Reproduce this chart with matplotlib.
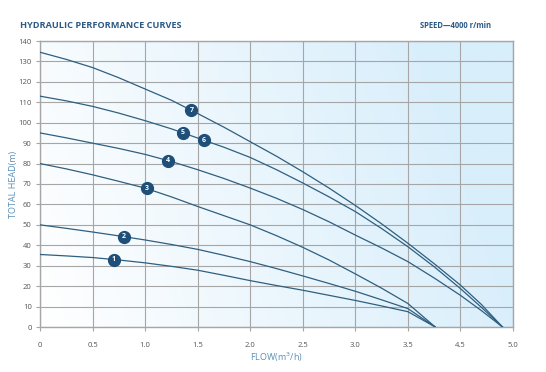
import numpy as np
import matplotlib.pyplot as plt
from matplotlib.colors import LinearSegmentedColormap

# curve data (x on the drawn flow scale, y = head in m)
x_low  = [0, 0.25, 0.5, 0.75, 1.0, 1.25, 1.5, 1.75, 2.0, 2.25, 2.5, 2.75,
          3.0, 3.25, 3.5, 3.76]
head1  = [35.5, 34.8, 34.0, 32.8, 31.4, 29.7, 27.8, 25.3, 22.7, 20.3, 18.0,
          15.5, 13.0, 10.3, 7.5, 0]
head2  = [50.0, 48.3, 46.5, 44.6, 42.6, 40.4, 38.0, 35.1, 32.0, 28.6, 25.0,
          21.3, 17.5, 13.3, 9.0, 0]
head3  = [80.0, 77.4, 74.5, 71.3, 68.0, 63.7, 59.0, 54.5, 50.0, 44.7, 39.0,
          32.8, 26.0, 19.0, 11.5, 0]

x_high = [0, 0.25, 0.5, 0.75, 1.0, 1.25, 1.5, 1.75, 2.0, 2.25, 2.5, 2.75,
          3.0, 3.25, 3.5, 3.75, 4.0, 4.2, 4.4]
head4  = [95.0, 92.6, 90.0, 87.4, 84.5, 81.0, 77.0, 72.7, 68.0, 63.0, 57.5,
          51.5, 45.0, 38.7, 32.0, 24.0, 15.5, 8.0, 0]
head56 = [113.0, 110.7, 108.0, 104.7, 101.0, 97.0, 92.5, 88.0, 83.0, 77.0,
          70.5, 63.7, 56.5, 48.2, 39.3, 29.5, 18.8, 9.6, 0]
head7  = [134.5, 131.0, 127.0, 122.0, 116.5, 111.0, 104.5, 97.8, 90.7, 83.6,
          76.0, 68.0, 59.5, 50.5, 41.0, 31.0, 20.5, 11.0, 0]

# numbered markers on the curves
mark_x = [0.70, 0.80, 1.015, 1.22, 1.36, 1.56, 1.44]
mark_y = [33.0, 44.2, 67.9, 81.3, 95.0, 91.5, 106.0]
mark_n = ['1', '2', '3', '4', '5', '6', '7']

xtick_pos = [0, 0.5, 1.0, 1.5, 2.0, 2.5, 3.0, 3.5, 4.0, 4.5]
xtick_lab = ['0', '0.5', '1.0', '1.5', '2.0', '2.5', '3.0', '3.5', '4.5', '5.0']
ytick_pos = list(range(0, 141, 10))

line_c  = '#2f5f80'
mark_c  = '#1f4f78'
title_c = '#2b5a85'
label_c = '#5a8fb8'
grid_c  = '#a6a6a6'

plt.rcParams['font.family'] = ['Open Sans', 'DejaVu Sans']

fig = plt.figure(figsize=(5.46, 3.72), dpi=100)
ax = fig.add_axes([40/546, 1-327/372, 473/546, 286/372])

# background gradient white -> light blue
cmap = LinearSegmentedColormap.from_list('bg', ['#ffffff', '#d8eefb'])
gx = np.linspace(0, 1, 256)
gy = np.linspace(0, 1, 64)
G = np.clip(gx[None, :] * 0.95 + gy[:, None] * 0.2, 0, 1)
ax.imshow(G, cmap=cmap, extent=[0, 4.5, 0, 140], aspect='auto',
          origin='lower', zorder=0, vmin=0, vmax=1)

for xs, hs in [(x_low, head1), (x_low, head2), (x_low, head3),
               (x_high, head4), (x_high, head56), (x_high, head7)]:
    ax.plot(xs, hs, color=line_c, lw=0.9, zorder=3)

for mx, my, mn in zip(mark_x, mark_y, mark_n):
    ax.plot(mx, my, 'o', ms=8.5, color=mark_c, zorder=4)
    ax.text(mx, my, mn, color='white', fontsize=5, fontweight='bold',
            ha='center', va='center', zorder=5)

ax.set_xlim(0, 4.5)
ax.set_ylim(0, 140)
ax.set_xticks(xtick_pos)
ax.set_xticklabels(xtick_lab)
ax.set_yticks(ytick_pos)
ax.grid(True, color=grid_c, lw=0.8, zorder=1)
ax.set_axisbelow(False)
for s in ax.spines.values():
    s.set_color(grid_c)
    s.set_linewidth(1.0)
ax.tick_params(colors='#555555', labelsize=5.5, length=3, width=0.8,
               color=grid_c, pad=3)
ax.tick_params(axis='x', pad=8)

ax.set_ylabel('TOTAL HEAD(m)', color=label_c, fontsize=6.5)
ax.yaxis.set_label_coords(-22/473, 0.5)
ax.set_xlabel('FLOW(m$^3$/h)', color=label_c, fontsize=6.5, labelpad=1)

fig.text(20/546, 1-25/372, 'HYDRAULIC PERFORMANCE CURVES', color=title_c,
         fontsize=6.6, fontweight='bold', va='center', ha='left')
fig.text(491/546, 1-26/372, 'SPEED\u20144000 r/min', color=title_c,
         fontsize=5.5, fontweight='bold', va='center', ha='right')

fig.savefig('out.png', dpi=100)
